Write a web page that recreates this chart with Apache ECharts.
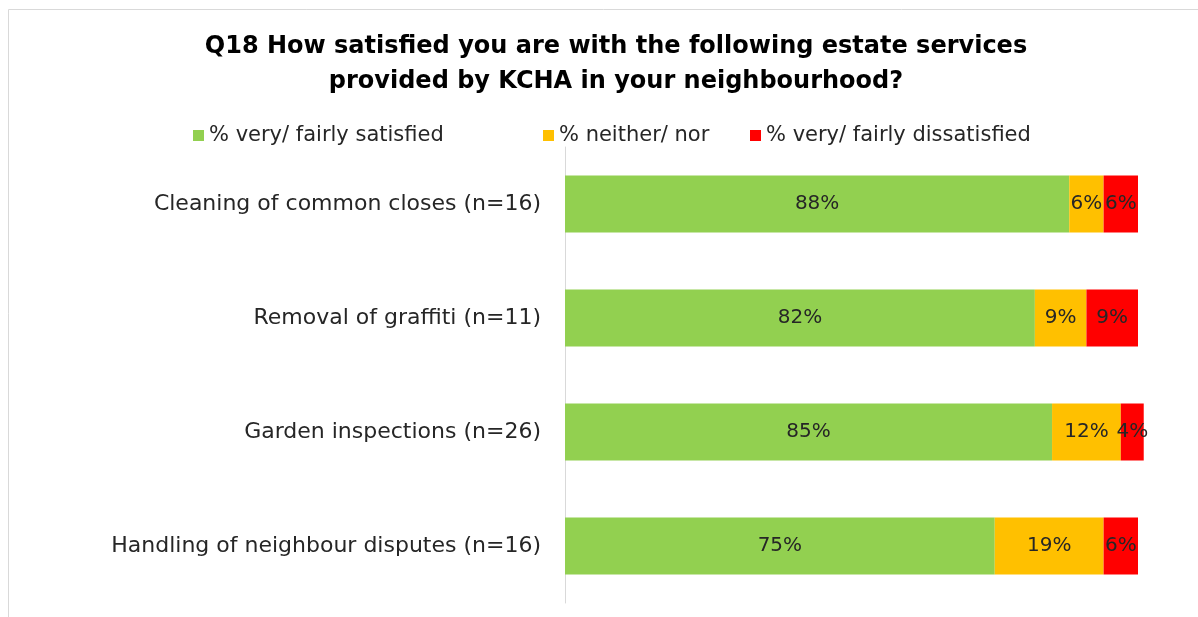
<!DOCTYPE html>
<html>
<head>
<meta charset="utf-8">
<script src="https://cdn.jsdelivr.net/npm/echarts@6/dist/echarts.min.js"></script>
<style>
  html, body { margin: 0; padding: 0; background: #fff; }
  #chart { width: 1198px; height: 617px; }
</style>
</head>
<body>
<div id="chart"></div>
<script>
// Survey services, listed top to bottom
const categories = [
  'Cleaning of common closes (n=16)',
  'Removal of graffiti (n=11)',
  'Garden inspections (n=26)',
  'Handling of neighbour disputes (n=16)'
];
const seriesNames = ['% very/ fairly satisfied', '% neither/ nor', '% very/ fairly dissatisfied'];
const satisfied = [88, 82, 85, 75];
const neither = [6, 9, 12, 19];
const dissatisfied = [6, 9, 4, 6];
const colors = ['#92D050', '#FFC000', '#FF0000'];

const FONT = 'DejaVu Sans';
const legendLefts = [188, 538, 745];

const chart = echarts.init(document.getElementById('chart'), null, { renderer: 'canvas' });

function barSeries(name, data, color) {
  return {
    name: name,
    type: 'bar',
    stack: 'total',
    data: data,
    barCategoryGap: '50%',
    clip: false,
    itemStyle: { color: color },
    label: {
      show: true,
      position: 'inside',
      formatter: p => p.value + '%',
      color: '#262626',
      fontFamily: FONT,
      fontSize: 20
    },
    emphasis: { disabled: true }
  };
}

// one legend entry per component so each can sit at its own spot
const legends = seriesNames.map((name, i) => ({
  top: 120,
  left: legendLefts[i],
  icon: 'rect',
  itemWidth: 11,
  itemHeight: 11,
  itemGap: 4,
  textStyle: { fontFamily: FONT, fontSize: 21, color: '#262626' },
  data: [name]
}));

chart.setOption({
  animation: false,
  color: colors,
  graphic: [{
    type: 'rect',
    shape: { x: 8.5, y: 9.5, width: 1300, height: 700 },
    style: { fill: 'none', stroke: '#d9d9d9', lineWidth: 1 },
    silent: true
  }],
  title: {
    text: 'Q18 How satisfied you are with the following estate services\nprovided by KCHA in your neighbourhood?',
    left: 611,
    textAlign: 'center',
    top: 24,
    textStyle: {
      fontFamily: FONT,
      fontWeight: 'bold',
      fontSize: 24,
      lineHeight: 35,
      color: '#000'
    }
  },
  legend: legends,
  grid: { left: 565, right: 60, top: 147, bottom: 14 },
  xAxis: {
    type: 'value',
    min: 0,
    max: 100,
    show: false
  },
  yAxis: {
    type: 'category',
    data: categories,
    inverse: true,
    axisLine: { show: true, lineStyle: { color: '#d9d9d9', width: 1 } },
    axisTick: { show: false },
    axisLabel: { fontFamily: FONT, fontSize: 22, color: '#262626', margin: 24 }
  },
  series: [
    barSeries(seriesNames[0], satisfied, colors[0]),
    barSeries(seriesNames[1], neither, colors[1]),
    barSeries(seriesNames[2], dissatisfied, colors[2])
  ]
});
</script>
</body>
</html>
